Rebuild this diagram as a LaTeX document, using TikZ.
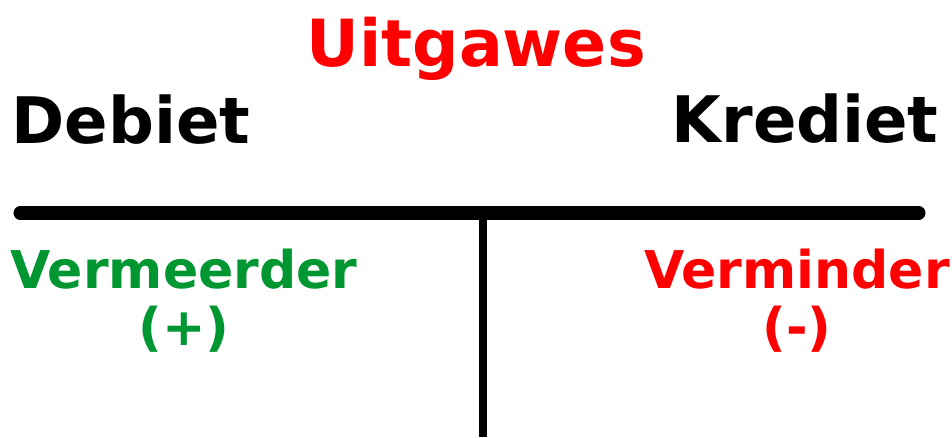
\documentclass[tikz,border=0pt]{standalone}
\usepackage{fontspec}
\setmainfont{DejaVu Sans}
\definecolor{rooi}{RGB}{255,0,0}
\definecolor{groen}{RGB}{0,150,50}
\begin{document}
\begin{tikzpicture}[line join=round, line cap=round, font=\bfseries]
	\useasboundingbox (0,0) rectangle (19.04,8.74);
	\path
	(0.40,4.48) coordinate (L)
	(18.38,4.48) coordinate (R)
	(9.66,4.48) coordinate (T)
	(9.66,0) coordinate (B);
	
	\draw[line width=7.4pt] (L)--(R);
	\draw[line width=4pt, line cap=butt] (T)--(B);
	
	\node[anchor=base, inner sep=0, text=rooi, font=\bfseries\fontsize{37}{40}\selectfont] (titel) at (9.52,7.40) {Uitgawes};
	\node[anchor=base west, inner sep=0, font=\bfseries\fontsize{36.5}{40}\selectfont] (debiet) at (0.22,5.86) {Debiet};
	\node[anchor=base east, inner sep=0, font=\bfseries\fontsize{36.5}{40}\selectfont] (krediet) at (18.78,5.88) {Krediet};
	
	\foreach \n/\x/\c/\t/\s in {meer/3.68/groen/Vermeerder/+, minder/15.94/rooi/Verminder/-}
	\node[anchor=base, inner sep=0, align=center, text=\c, font=\bfseries\fontsize{29.6}{32.4}\selectfont] (\n) at (\x,1.84) {\t\\(\s)};
\end{tikzpicture}
\end{document}
